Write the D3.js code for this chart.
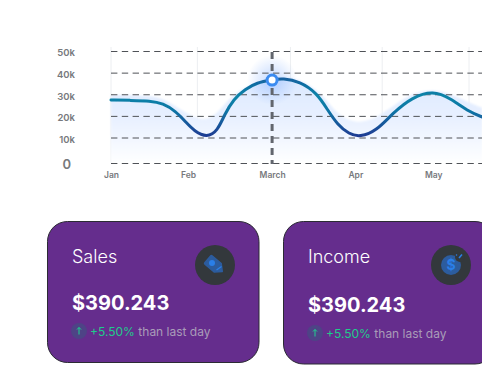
<!DOCTYPE html>
<html><head><meta charset="utf-8">
<script src="https://cdnjs.cloudflare.com/ajax/libs/d3/7.8.5/d3.min.js"></script>
<style>html,body{margin:0;padding:0;background:#fff;overflow:hidden}svg{display:block}text{font-family:Inter,"Noto Sans",sans-serif}</style>
</head><body><div id="chart"></div>
<script>
const yTicks = [0, 10, 20, 30, 40, 50];
const monthNames = ["Jan", "Feb", "March", "Apr", "May"];
const labelMonths = [0, 0.86, 1.80, 2.73, 3.60];
const gridMonths = [0, 0.965, 2.005, 3.03, 4.0];
const lineMonths = [0,.21,.44,.58,.72,.84,.93,1.07,1.19,1.27,1.37,1.50,1.63,1.80,1.92,2.11,2.30,2.42,2.53,2.66,2.78,2.97,3.15,3.37,3.60,3.79,4.01,4.15];
const lineValues = [27.6,27.4,27.2,26.0,22.5,17.2,13.2,10.2,13.2,21.0,28.0,32.6,35.6,36.9,37.6,36.1,30.8,23.0,16.2,11.8,10.4,13.4,21.6,29.0,31.8,28.5,21.8,19.7];
const glowMonths = [0,.44,.60,.83,1.07,1.25,1.41,1.80,2.0,2.17,2.37,2.53,2.75,2.97,3.20,3.37,3.60,3.82,4.01,4.15];
const glowValues = [29.9,29.6,28,21.6,16.8,24.3,32.4,37.9,38,35.9,29.9,20.6,16.4,19.2,26.2,30.8,32.6,29.9,26.2,23.9];
const markerMonth = 1.80, markerValue = 36.8;
const cardTitles = ["Sales", "Income"];
const cardAmounts = ["$390.243", "$390.243"];
const cardChanges = ["+5.50%", "+5.50%"];
const changeSuffix = "than last day";

const W = 482, H = 382;
const svg = d3.select("#chart").append("svg").attr("width", W).attr("height", H);
const defs = svg.append("defs");

const x = d3.scaleLinear().domain([0, 1]).range([111, 200.5]);
const y = d3.scaleLinear().domain([0, 10, 50]).range([163.5, 138, 51.5]);

const fillGrad = defs.append("linearGradient").attr("id", "fillG").attr("x1", 0).attr("x2", 0).attr("y1", 0).attr("y2", 1);
fillGrad.append("stop").attr("offset", "0").attr("stop-color", "#dbe8ff");
fillGrad.append("stop").attr("offset", "0.5").attr("stop-color", "#e9f1ff");
fillGrad.append("stop").attr("offset", "1").attr("stop-color", "#ffffff");

const lineGrad = defs.append("linearGradient").attr("id", "lineG").attr("gradientUnits", "userSpaceOnUse")
  .attr("x1", 0).attr("x2", 0).attr("y1", 78).attr("y2", 137);
[[0, "#14609f"], [0.3, "#0a84a8"], [0.55, "#0f75a5"], [1, "#1f3a92"]].forEach(s =>
  lineGrad.append("stop").attr("offset", s[0]).attr("stop-color", s[1]));

const glowGrad = defs.append("radialGradient").attr("id", "glowG");
glowGrad.append("stop").attr("offset", "0").attr("stop-color", "#6ea2ff").attr("stop-opacity", 0.4);
glowGrad.append("stop").attr("offset", "1").attr("stop-color", "#6ea2ff").attr("stop-opacity", 0);
defs.append("filter").attr("id", "soft").append("feGaussianBlur").attr("stdDeviation", 0.8);
defs.append("filter").attr("id", "softer").append("feGaussianBlur").attr("stdDeviation", 0.25);

// vertical month guides
svg.append("g").selectAll("line").data(gridMonths).join("line")
  .attr("x1", d => x(d)).attr("x2", d => x(d)).attr("y1", 47).attr("y2", 163)
  .attr("stroke", "#eceef1").attr("stroke-width", 1);

// area
const area = d3.area().x((d, i) => x(glowMonths[i])).y0(y(0)).y1(d => y(d)).curve(d3.curveBasis);
svg.append("path").datum(glowValues).attr("d", area).attr("fill", "url(#fillG)").attr("filter", "url(#soft)");

// marker glow
svg.append("circle").attr("cx", x(markerMonth)).attr("cy", y(markerValue)).attr("r", 25).attr("fill", "url(#glowG)");

// horizontal grid
svg.append("g").selectAll("line").data(yTicks).join("line")
  .attr("x1", 111).attr("x2", W)
  .attr("y1", d => y(d)).attr("y2", d => y(d))
  .attr("stroke", "#4f5257").attr("stroke-dasharray", "6.4 4.4").attr("stroke-width", 1);

// y axis
const yAxis = d3.axisLeft(y).tickValues(yTicks).tickSize(0).tickPadding(0).tickFormat(d => d === 0 ? "0" : d + "k");
const gy = svg.append("g").attr("transform", "translate(75,1.3)").call(yAxis);
gy.select(".domain").remove();
gy.selectAll("text").attr("fill", "#77797d").attr("font-weight", 600).attr("font-size", 9.5)
  .style("font-family", "Inter,sans-serif").attr("dy", "0.32em");
gy.selectAll("text").filter(d => d === 0).attr("font-size", 13).attr("x", -4);

// x axis
const xAxis = d3.axisBottom(x).tickValues(labelMonths).tickSize(0).tickPadding(0)
  .tickFormat((d, i) => monthNames[i]);
const gx = svg.append("g").attr("transform", "translate(0,172)").call(xAxis);
gx.select(".domain").remove();
gx.selectAll("text").attr("fill", "#77797d").attr("font-weight", 600).attr("font-size", 8.5)
  .style("font-family", "Inter,sans-serif");

// dashed cursor
svg.append("line").attr("x1", x(markerMonth)).attr("x2", x(markerMonth)).attr("y1", 52).attr("y2", 164)
  .attr("stroke", "#62666e").attr("stroke-width", 3).attr("stroke-dasharray", "7 5");

// curve
const line = d3.line().x((d, i) => x(lineMonths[i])).y(d => y(d)).curve(d3.curveBasis);
svg.append("path").datum(lineValues).attr("d", line).attr("fill", "none")
  .attr("stroke", "url(#lineG)").attr("stroke-width", 3).attr("stroke-linecap", "round").attr("filter", "url(#softer)");

// marker
svg.append("circle").attr("cx", x(markerMonth)).attr("cy", y(markerValue)).attr("r", 5)
  .attr("fill", "#fff").attr("stroke", "#3b8bf0").attr("stroke-width", 3);

// cards
const cards = [
  {x: 47.5, y: 221.5, w: 211.5, h: 141, dy: 0},
  {x: 283.5, y: 221.5, w: 211.5, h: 142.5, dy: 2}
];
cards.forEach((c, i) => {
  const g = svg.append("g");
  g.append("rect").attr("x", c.x).attr("y", c.y).attr("width", c.w).attr("height", c.h).attr("rx", 20)
    .attr("fill", "#652d8d").attr("stroke", "#2b2b33").attr("stroke-width", 1);
  const tx = c.x + 24.5;
  g.append("text").attr("x", tx).attr("y", 263).attr("font-size", 18).attr("font-weight", 300).attr("fill", "#fff").text(cardTitles[i]);
  g.append("text").attr("x", tx).attr("y", 310 + c.dy).attr("font-size", 20).attr("font-weight", 700).attr("fill", "#fff").text(cardAmounts[i]);
  const by = 331 + c.dy;
  g.append("circle").attr("cx", c.x + 31.5).attr("cy", by).attr("r", 8).attr("fill", "#4e4386");
  g.append("path").attr("d", `M${c.x + 31.5},${by + 3.5}V${by - 3.5}M${c.x + 29.5},${by - 1.5}L${c.x + 31.5},${by - 3.5}L${c.x + 33.5},${by - 1.5}`)
    .attr("fill", "none").attr("stroke", "#1fd38f").attr("stroke-width", 1);
  const t = g.append("text").attr("x", c.x + 42.5).attr("y", by + 4.5).attr("font-size", 12);
  t.append("tspan").attr("fill", "#1fcb8b").text(cardChanges[i]);
  t.append("tspan").attr("fill", "#a99cb8").attr("dx", 3.5).text(changeSuffix);
  const cx = c.x + 167.5, cy = 265;
  g.append("circle").attr("cx", cx).attr("cy", cy).attr("r", 20).attr("fill", "#33383c");
  if (i === 0) {
    const ic = g.append("g").attr("transform", `translate(${cx},${cy + 0.5}) rotate(40)`);
    ic.append("path").attr("d", "M-8.5,-5.5 H3.5 L9.5,0 L3.5,5.5 H-8.5 Q-9.5,5.5 -9.5,4.5 V-4.5 Q-9.5,-5.5 -8.5,-5.5Z")
      .attr("fill", "#2c5c9e").attr("stroke", "#2c5c9e").attr("stroke-linejoin", "round").attr("stroke-width", 1.5);
    g.append("circle").attr("cx", cx - 3).attr("cy", cy - 2).attr("r", 3).attr("fill", "#2a7fe8");
    g.append("line").attr("x1", cx + 1.5).attr("y1", cy + 5).attr("x2", cx + 6.5).attr("y2", cy + 1.5)
      .attr("stroke", "#2a7fe8").attr("stroke-width", 1.3);
  } else {
    g.append("circle").attr("cx", cx).attr("cy", cy).attr("r", 10).attr("fill", "#2c5c9e");
    g.append("circle").attr("cx", cx + 9).attr("cy", cy - 8).attr("r", 5).attr("fill", "#33383c");
    g.append("text").attr("x", cx).attr("y", cy + 5).attr("text-anchor", "middle").attr("font-size", 14).attr("font-weight", 700).attr("fill", "#2a7fe8").text("$");
    g.append("line").attr("x1", cx + 8).attr("y1", cy - 7).attr("x2", cx + 11).attr("y2", cy - 10.5).attr("stroke", "#2a7fe8").attr("stroke-width", 1.5);
    g.append("circle").attr("cx", cx + 5.5).attr("cy", cy - 10).attr("r", 0.8).attr("fill", "#2a7fe8");
  }
});
</script></body></html>
